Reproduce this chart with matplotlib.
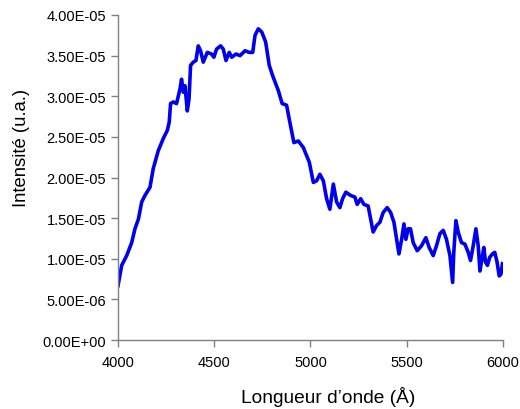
import numpy as np
import matplotlib
matplotlib.use('Agg')
from matplotlib import pyplot as plt
from matplotlib.ticker import FuncFormatter

# wavelength (Angstrom) and intensity (units of 1e-5, u.a.)
wavelength = [4000, 4019, 4045, 4071, 4088, 4106, 4123, 4140, 4166, 4183,
              4209, 4235, 4256, 4266, 4273, 4287, 4304, 4322, 4330, 4339,
              4348, 4360, 4369, 4377, 4391, 4405, 4417, 4429, 4443, 4464,
              4486, 4498, 4512, 4533, 4547, 4561, 4578, 4591, 4613, 4634,
              4660, 4682, 4700, 4712, 4729, 4747, 4767, 4786, 4804, 4833,
              4853, 4876, 4893, 4914, 4937, 4963, 4980, 4994, 5015, 5032,
              5049, 5067, 5084, 5101, 5119, 5136, 5153, 5167, 5184, 5209,
              5231, 5243, 5261, 5278, 5300, 5313, 5326, 5344, 5361, 5378,
              5399, 5417, 5434, 5448, 5460, 5474, 5486, 5496, 5508, 5520,
              5534, 5555, 5577, 5600, 5617, 5638, 5655, 5673, 5690, 5707,
              5725, 5739, 5745, 5756, 5768, 5785, 5803, 5820, 5832, 5846,
              5860, 5872, 5881, 5893, 5901, 5910, 5920, 5932, 5946, 5958,
              5970, 5981, 5990, 5998]
intensity = [0.67, 0.92, 1.04, 1.20, 1.37, 1.49, 1.70, 1.78, 1.88, 2.11,
             2.33, 2.48, 2.58, 2.68, 2.91, 2.93, 2.91, 3.09, 3.21, 3.05,
             3.13, 2.82, 2.97, 3.38, 3.42, 3.44, 3.62, 3.56, 3.42, 3.54,
             3.52, 3.48, 3.58, 3.62, 3.58, 3.44, 3.54, 3.48, 3.52, 3.50,
             3.56, 3.54, 3.54, 3.75, 3.83, 3.79, 3.67, 3.38, 3.25, 3.07,
             2.91, 2.89, 2.68, 2.43, 2.45, 2.37, 2.27, 2.19, 1.94, 1.96,
             2.04, 1.96, 1.74, 1.61, 1.92, 1.70, 1.63, 1.74, 1.82, 1.78,
             1.76, 1.67, 1.74, 1.67, 1.65, 1.49, 1.33, 1.41, 1.45, 1.57,
             1.63, 1.57, 1.45, 1.24, 1.06, 1.24, 1.43, 1.24, 1.37, 1.37,
             1.20, 1.10, 1.16, 1.26, 1.14, 1.04, 1.16, 1.31, 1.35, 1.24,
             1.04, 0.71, 1.08, 1.47, 1.33, 1.20, 1.18, 1.08, 0.98, 1.16,
             1.37, 1.16, 0.85, 1.02, 1.14, 0.96, 0.92, 1.02, 1.06, 1.08,
             0.96, 0.79, 0.81, 0.94]
x_ticks = [4000, 4500, 5000, 5500, 6000]
y_ticks = [0, 0.5e-5, 1.0e-5, 1.5e-5, 2.0e-5, 2.5e-5, 3.0e-5, 3.5e-5, 4.0e-5]

plt.rcParams['font.family'] = ['Liberation Sans', 'DejaVu Sans']

fig = plt.figure(figsize=(5.2, 4.1), dpi=100)
ax = fig.add_axes([0.227, 0.168, 0.740, 0.793])

y = np.array(intensity) * 1e-5
ax.plot(wavelength, y, color='#0000ee', linewidth=2.6, solid_joinstyle='round')

ax.set_xlim(4000, 6000)
ax.set_ylim(0, 4.0e-5)
ax.set_xticks(x_ticks)
ax.set_yticks(y_ticks)

def sci_fmt(v, pos):
    s = '%.2E' % v
    mant, ex = s.split('E')
    sign = ex[0]
    return '%sE%s%02d' % (mant, sign, abs(int(ex)))

ax.yaxis.set_major_formatter(FuncFormatter(sci_fmt))

for side in ['top', 'right']:
    ax.spines[side].set_visible(False)
for side in ['left', 'bottom']:
    ax.spines[side].set_color('#808080')
    ax.spines[side].set_linewidth(1.0)

ax.tick_params(axis='both', direction='out', length=5, width=1.0,
               color='#808080', labelsize=10.5, labelcolor='black')
ax.tick_params(axis='x', pad=6)

ax.set_xlabel('Longueur d’onde (Å)', fontsize=13.8)
ax.set_ylabel('Intensité (u.a.)', fontsize=13.3)
# Excel-style label placement (slightly off-centre)
ax.xaxis.set_label_coords(0.545, -0.14)
ax.yaxis.set_label_coords(-0.228, 0.594)

fig.savefig('out.png', dpi=100)
